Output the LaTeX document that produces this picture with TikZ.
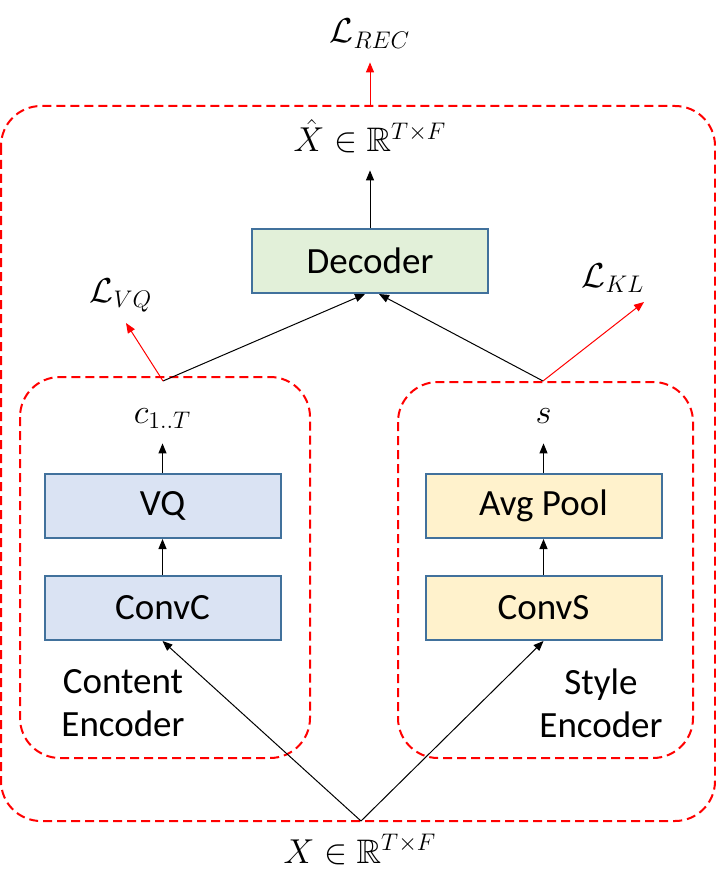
\documentclass[tikz,border=0pt]{standalone}
\usepackage{amssymb}
\usepackage{fontspec}
\setmainfont{Carlito}
\usetikzlibrary{arrows.meta}
\definecolor{boxblue}{HTML}{41719C}
\definecolor{decgreen}{HTML}{E2F0D9}
\definecolor{encblue}{HTML}{DAE3F3}
\definecolor{styyel}{HTML}{FFF2CC}
\begin{document}
\begin{tikzpicture}[x=0.5pt,y=-0.5pt,
  every node/.style={inner sep=0pt},
  blk/.style={draw=boxblue, line width=1pt, minimum width=118pt, minimum height=32pt, font=\fontsize{18.5}{22}\selectfont},
  grp/.style={draw=red, line width=1pt, dash pattern=on 4.5pt off 2.5pt, rounded corners=20pt},
  arr/.style={-{Triangle[length=5pt,width=4pt]}, line width=0.5pt},
  redarr/.style={arr, red},
  mlab/.style={anchor=base, font=\fontsize{17}{20}\selectfont, inner sep=2pt},
  encname/.style={align=center, font=\fontsize{18.5}{21.5}\selectfont}
]
\useasboundingbox (0,0) rectangle (716,882);
\draw[grp] (1,106) rectangle (715,821);
\draw[grp] (20,377) rectangle (310,758);
\draw[grp] (398,382) rectangle (693,758);

\node[blk, fill=decgreen] (dec) at (370,261) {Decoder};
\node[blk, fill=encblue] (vq) at (162.5,506) {VQ};
\node[blk, fill=encblue] (convc) at (162.5,608) {ConvC};
\node[blk, fill=styyel] (avg) at (543.5,506) {Avg Pool};
\node[blk, fill=styyel] (convs) at (543.5,608) {ConvS};

\node[mlab, text depth=7pt] (xhat) at (370,152) {$\hat{X}\in\mathbb{R}^{T\times F}$};
\node[mlab, text depth=7.5pt] (lrec) at (370,43) {$\mathcal{L}_{REC}$};
\node[mlab, text depth=8pt] (c) at (162.5,423) {$c_{1..T}$};
\node[mlab, text depth=8pt] (s) at (543.5,423) {$s$};
\node[mlab] (lvq) at (121,302) {$\mathcal{L}_{VQ}$};
\node[mlab] (lkl) at (613,287) {$\mathcal{L}_{KL}$};
\node[mlab] (x) at (360,863) {$X\in\mathbb{R}^{T\times F}$};

\node[encname] (ce) at (123,703) {Content\\Encoder};
\node[encname] (se) at (601,703) {Style\\Encoder};

\coordinate (rj) at (370,106);
\coordinate (cj) at (163,381);
\coordinate (sj) at (543,381);
\coordinate (xj) at (361,821);
\coordinate (vqtip) at (126,323);
\coordinate (kltip) at (644,302);

\draw[redarr] (rj) -- (lrec.south);
\draw[arr] (dec.north) -- (xhat.south);
\draw[arr] (cj) -- ([xshift=-2.5pt]dec.south);
\draw[arr] (sj) -- ([xshift=4.5pt]dec.south);
\draw[redarr] (cj) -- (vqtip);
\draw[redarr] (sj) -- (kltip);
\draw[arr] (vq.north) -- (c.south);
\draw[arr] (convc.north) -- (vq.south);
\draw[arr] (avg.north) -- (s.south);
\draw[arr] (convs.north) -- (avg.south);
\draw[arr] (xj) -- (convc.south);
\draw[arr] (xj) -- (convs.south);
\end{tikzpicture}
\end{document}
